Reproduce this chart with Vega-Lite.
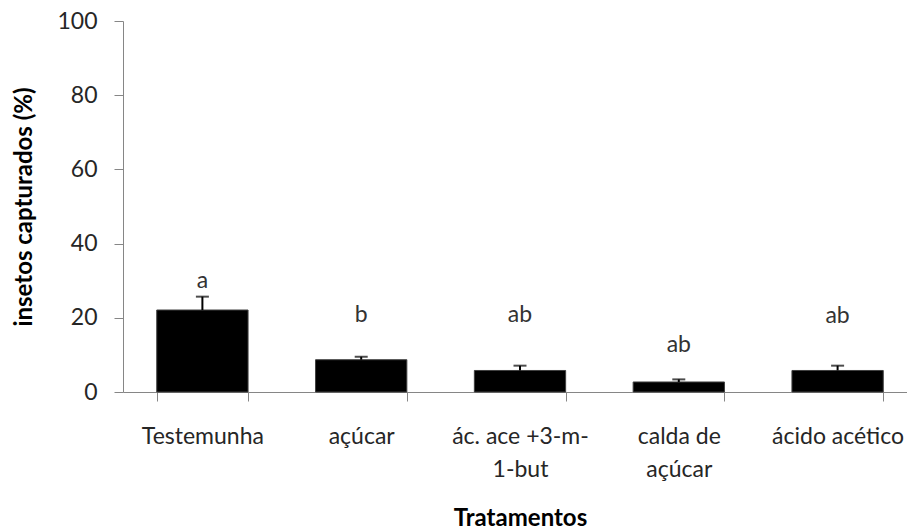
{
  "$schema": "https://vega.github.io/schema/vega-lite/v6.json",
  "autosize": "none",
  "width": 784,
  "height": 371,
  "padding": {"left": 123, "top": 21, "right": 0, "bottom": 139},
  "background": "white",
  "data": {
    "values": [
      {"tratamento": "Testemunha", "captura": 22.1, "erro_sup": 25.7, "letra": "a", "letra_y": 28.0},
      {"tratamento": "açúcar", "captura": 8.7, "erro_sup": 9.5, "letra": "b", "letra_y": 18.9},
      {"tratamento": "ác. ace +3-m-1-but", "captura": 5.8, "erro_sup": 7.1, "letra": "ab", "letra_y": 18.9},
      {"tratamento": "calda de açúcar", "captura": 2.7, "erro_sup": 3.4, "letra": "ab", "letra_y": 10.9},
      {"tratamento": "ácido acético", "captura": 5.8, "erro_sup": 7.1, "letra": "ab", "letra_y": 18.5}
    ]
  },
  "encoding": {
    "x": {
      "field": "tratamento",
      "type": "nominal",
      "sort": null,
      "scale": {"range": [0, 794], "paddingInner": 0.425, "paddingOuter": 0.2125},
      "axis": {
        "title": "Tratamentos",
        "labelAngle": 0,
        "tickBand": "extent",
        "tickSize": 9,
        "labelPadding": 24,
        "labelLineHeight": 33,
        "titlePadding": 25,
        "labelExpr": "datum.value == 'ác. ace +3-m-1-but' ? ['ác. ace +3-m-', '1-but'] : datum.value == 'calda de açúcar' ? ['calda de', 'açúcar'] : datum.value"
      }
    }
  },
  "layer": [
    {
      "mark": {"type": "bar", "color": "black", "stroke": "#404040", "strokeWidth": 1},
      "encoding": {
        "y": {
          "field": "captura",
          "type": "quantitative",
          "scale": {"domain": [0, 100]},
          "axis": {
            "title": "insetos capturados (%)",
            "values": [0, 20, 40, 60, 80, 100],
            "grid": false,
            "tickSize": 9,
            "labelPadding": 17,
            "titlePadding": 20
          }
        }
      }
    },
    {
      "mark": {"type": "rule", "color": "black", "strokeWidth": 2},
      "encoding": {
        "y": {"field": "captura", "type": "quantitative"},
        "y2": {"field": "erro_sup"}
      }
    },
    {
      "mark": {"type": "tick", "color": "black", "thickness": 2, "size": 13, "orient": "horizontal"},
      "encoding": {
        "y": {"field": "erro_sup", "type": "quantitative"}
      }
    },
    {
      "mark": {"type": "text", "font": "Lato", "fontSize": 23, "color": "#333333", "baseline": "alphabetic"},
      "encoding": {
        "y": {"field": "letra_y", "type": "quantitative"},
        "text": {"field": "letra"}
      }
    }
  ],
  "config": {
    "view": {"stroke": null},
    "axis": {
      "domainColor": "#868686",
      "tickColor": "#868686",
      "domainWidth": 1,
      "tickWidth": 1,
      "labelFont": "Lato",
      "labelFontSize": 23,
      "labelColor": "#262626",
      "titleFont": "Lato",
      "titleFontSize": 24,
      "titleFontWeight": "bold",
      "titleColor": "#000000"
    }
  }
}
